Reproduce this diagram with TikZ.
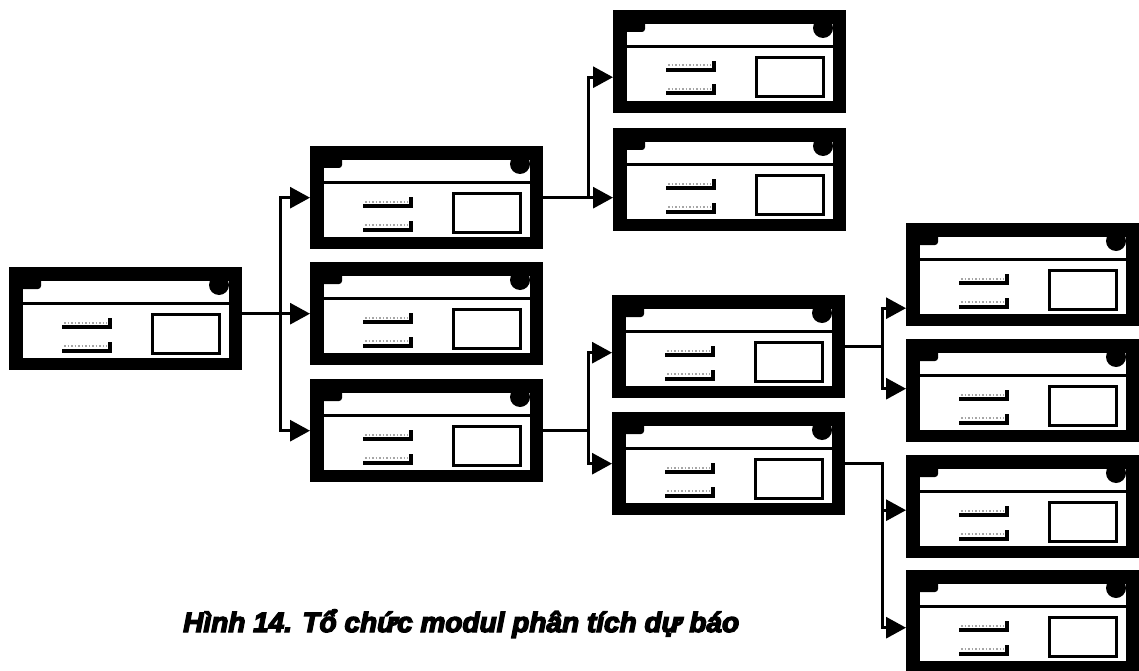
\documentclass[tikz,border=0pt]{standalone}
\usepackage{fontspec}
\newfontfamily\capfont{Liberation Sans}[BoldItalicFeatures={FakeBold=5}]
\usetikzlibrary{arrows.meta}
\tikzset{
  modbox/.style={rectangle, fill=black, draw=none, minimum width=233pt,
    minimum height=103pt, inner sep=0pt, anchor=north west},
  grayrule/.style={black!35, line width=2pt, dash pattern=on 1.5pt off 2pt},
  conn/.style={line width=3pt, line join=miter},
  arr/.style={-{Triangle[length=20pt,width=21pt]}},
  captext/.style={anchor=base west, inner sep=0pt, text=black}
}
\begin{document}
\begin{tikzpicture}[x=1pt,y=-1pt]
  \useasboundingbox (0,0) rectangle (1139,671);
  \fill[white] (0,0) rectangle (1139,671);

  % boxes
  \node[modbox] (root) at (9,267) {};
  \node[modbox] (A) at (310,146) {};
  \node[modbox] (B) at (310,262) {};
  \node[modbox] (C) at (310,379) {};
  \node[modbox] (D1) at (613,10) {};
  \node[modbox] (D2) at (613,128) {};
  \node[modbox] (E1) at (612,295) {};
  \node[modbox] (E2) at (612,412) {};
  \node[modbox] (F1) at (906,223) {};
  \node[modbox] (F2) at (906,339) {};
  \node[modbox] (F3) at (906,455) {};
  \node[modbox] (F4) at (906,570) {};

  % inner details of every box
  \foreach \n in {root,A,B,C,D1,D2,E1,E2,F1,F2,F3,F4} {
    \begin{scope}[shift={(\n.north west)}]
      \fill[white] (14,14) rectangle (220,91);
      \fill[black] (14,35) rectangle (220,38);
      \fill[black, rounded corners=3pt] (8,8) rectangle (32,22);
      \fill[black] (210,18) circle (10pt);
      \draw[grayrule] (55,55.5) -- (98,55.5);
      \fill[black] (53,58) rectangle (102.5,62);
      \fill[black] (99,51) rectangle (102.5,62);
      \draw[grayrule] (55,79) -- (98,79);
      \fill[black] (53,81.5) rectangle (102.5,85.5);
      \fill[black] (99,74.5) rectangle (102.5,85.5);
      \draw[black, line width=3pt] (143.5,47.5) rectangle (210.5,86.5);
    \end{scope}
  }

  % junction columns and entry points
  \coordinate (j1) at (280,0);
  \coordinate (j2) at (588,0);
  \coordinate (j3) at (882,0);
  \coordinate (d1in) at ([yshift=-15.5pt]D1.west);
  \coordinate (e1in) at ([yshift=-6pt]E1.west);
  \coordinate (f1in) at ([yshift=-33.5pt]F1.west);
  \coordinate (f2in) at ([yshift=2pt]F2.west);
  \coordinate (f3in) at ([yshift=-3.5pt]F3.west);
  \coordinate (f4in) at ([yshift=-6pt]F4.west);

  % root -> A, B, C
  \draw[conn,arr] (root.east |- B.west) -- (B.west);
  \draw[conn,arr] (j1 |- B.west) -- (j1 |- A.west) -- (A.west);
  \draw[conn,arr] (j1 |- B.west) -- (j1 |- C.west) -- (C.west);

  % A -> D1, D2
  \draw[conn,arr] (A.east) -- (A.east -| D2.west);
  \draw[conn,arr] (j2 |- A.east) -- (j2 |- d1in) -- (d1in);

  % C -> E1, E2
  \draw[conn] (C.east) -- (j2 |- C.east);
  \draw[conn,arr] (j2 |- C.east) -- (j2 |- e1in) -- (e1in);
  \draw[conn,arr] (j2 |- C.east) -- (j2 |- E2.west) -- (E2.west);

  % E1 -> F1, F2
  \draw[conn] (E1.east) -- (j3 |- E1.east);
  \draw[conn,arr] (j3 |- E1.east) -- (j3 |- f1in) -- (f1in);
  \draw[conn,arr] (j3 |- E1.east) -- (j3 |- f2in) -- (f2in);

  % E2 -> F3, F4
  \draw[conn,arr] (E2.east) -- (j3 |- E2.east) -- (j3 |- f3in) -- (f3in);
  \draw[conn,arr] (j3 |- f3in) -- (j3 |- f4in) -- (f4in);

  % caption
  \node[captext] (cap) at (183,632)
    {\capfont\bfseries\itshape\fontsize{28}{33}\selectfont Hình 14. Tổ chức modul phân tích dự báo};
\end{tikzpicture}
\end{document}
